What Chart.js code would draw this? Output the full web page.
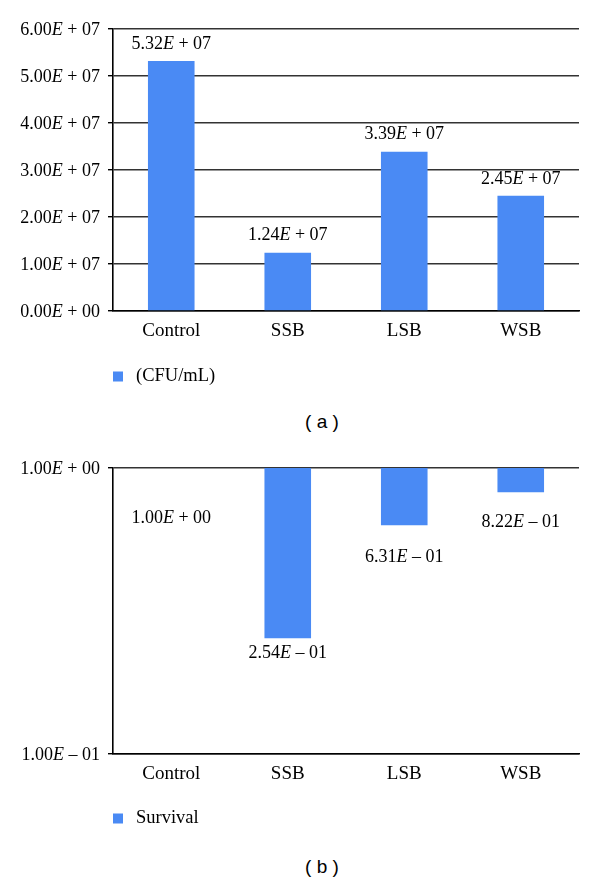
<!DOCTYPE html>
<html>
<head>
<meta charset="utf-8">
<script src="https://cdn.jsdelivr.net/npm/chart.js@4/dist/chart.umd.min.js"></script>
<style>
  html, body { margin: 0; padding: 0; background: #fff; }
  #wrap { position: relative; width: 600px; height: 882px; overflow: hidden; }
  .cv { position: absolute; left: 0; width: 600px; height: 400px; }
  .cap { position: absolute; width: 100px; text-align: center; font-family: 'Liberation Sans', Arial, sans-serif; font-size: 19px; color: #000; line-height: 24px; }
</style>
</head>
<body>
<div id="wrap">
  <div class="cv" style="top:0"><canvas id="ca" width="600" height="400"></canvas></div>
  <div class="cap" style="left:272px; top:410px;">( a )</div>
  <div class="cv" style="top:440px"><canvas id="cb" width="600" height="400"></canvas></div>
  <div class="cap" style="left:272px; top:855px;">( b )</div>
</div>
<script>
// ---- data ----
const categories = ['Control', 'SSB', 'LSB', 'WSB'];
const cfuValues = [5.32e7, 1.24e7, 3.39e7, 2.45e7];
const survivalValues = [1.00, 0.254, 0.631, 0.822];
const cfuTicks = [0, 1e7, 2e7, 3e7, 4e7, 5e7, 6e7];
const survivalTicks = [0.1, 1];
const cfuLegend = '(CFU/mL)';
const survivalLegend = 'Survival';

const BAR = '#4a8af4';
const SERIF = "'Liberation Serif', 'Times New Roman', serif";
const INK = '#000';

function fmt(v) {
  if (v === 0) return '0.00E + 00';
  let e = Math.floor(Math.log10(Math.abs(v)) + 1e-9);
  let m = v / Math.pow(10, e);
  if (Number(m.toFixed(2)) >= 10) { e += 1; m = v / Math.pow(10, e); }
  const s = e < 0 ? ' \u2013 ' : ' + ';
  const ee = String(Math.abs(e)).padStart(2, '0');
  return m.toFixed(2) + 'E' + s + ee;
}

function richText(ctx, text, x, y, size, align) {
  const i = text.indexOf('E');
  const a = text.slice(0, i), b = text.slice(i + 1);
  const normal = size + 'px ' + SERIF;
  const ital = 'italic ' + normal;
  ctx.font = normal;
  const wa = ctx.measureText(a).width, wb = ctx.measureText(b).width;
  ctx.font = ital;
  const we = ctx.measureText('E').width;
  const total = wa + we + wb;
  let x0 = x;
  if (align === 'right') x0 = x - total;
  else if (align === 'center') x0 = x - total / 2;
  ctx.textBaseline = 'middle';
  ctx.textAlign = 'left';
  ctx.fillStyle = INK;
  ctx.font = normal; ctx.fillText(a, x0, y);
  ctx.font = ital; ctx.fillText('E', x0 + wa, y);
  ctx.font = normal; ctx.fillText(b, x0 + wa + we, y);
}

const decorPlugin = {
  id: 'decor',
  afterDraw(chart, args, opts) {
    const ctx = chart.ctx;
    const ca = chart.chartArea;
    const ys = chart.scales.y;
    ctx.save();
    // y tick labels
    ys.ticks.forEach(t => {
      const py = ys.getPixelForValue(t.value);
      richText(ctx, fmt(t.value), ca.left - 13, py + 1, 18, 'right');
    });
    // data labels
    const meta = chart.getDatasetMeta(0);
    const vals = chart.data.datasets[0].rawValues;
    meta.data.forEach((bar, i) => {
      if (opts.mode === 'above') {
        richText(ctx, fmt(vals[i]), bar.x, bar.y - opts.gap, 18, 'center');
      } else {
        const bottom = ys.getPixelForValue(vals[i]);
        richText(ctx, fmt(vals[i]), bar.x, bottom + opts.gaps[i], 18, 'center');
      }
    });
    // legend
    ctx.fillStyle = BAR;
    ctx.fillRect(ca.left, opts.legendY - 5, 10, 10);
    ctx.fillStyle = INK;
    ctx.font = '18.5px ' + SERIF;
    ctx.textAlign = 'left';
    ctx.textBaseline = 'middle';
    ctx.fillText(chart.data.datasets[0].label, ca.left + 23, opts.legendY);
    ctx.restore();
  }
};

function makeChart(id, cfg) {
  return new Chart(document.getElementById(id), {
    type: 'bar',
    data: {
      labels: categories,
      datasets: [{
        label: cfg.legend,
        data: cfg.data,
        rawValues: cfg.raw,
        backgroundColor: BAR,
        borderWidth: 0,
        barPercentage: 0.4,
        categoryPercentage: 1.0
      }]
    },
    options: {
      responsive: false,
      animation: false,
      devicePixelRatio: 1,
      layout: { padding: { top: cfg.top, right: 21, bottom: 0, left: 0 } },
      plugins: {
        legend: { display: false },
        tooltip: { enabled: false },
        decor: cfg.decor
      },
      scales: {
        x: {
          grid: { display: false, drawTicks: false },
          border: { display: true, color: '#000', width: 1.6 },
          ticks: { color: INK, font: { family: SERIF, size: 19 }, padding: 9, maxRotation: 0 },
          afterFit(s) { s.height = 400 - cfg.bottom; }
        },
        y: {
          type: cfg.yType,
          min: cfg.min, max: cfg.max,
          grid: { color: '#333', lineWidth: 1.4, drawTicks: true, tickLength: 5, tickColor: '#000', tickWidth: 1.4 },
          border: { display: true, color: '#000', width: 1.6 },
          ticks: { color: 'rgba(0,0,0,0)', font: { family: SERIF, size: 18 }, autoSkip: false, callback: v => fmt(v) },
          afterBuildTicks(s) { s.ticks = cfg.ticks.map(v => ({ value: v })); },
          afterFit(s) { s.width = 113; }
        }
      }
    },
    plugins: [decorPlugin]
  });
}

makeChart('ca', {
  legend: cfuLegend,
  data: cfuValues,
  raw: cfuValues,
  yType: 'linear', min: 0, max: 6e7,
  ticks: cfuTicks,
  top: 29, bottom: 311,
  decor: { mode: 'above', gap: 17, legendY: 376.5 }
});

makeChart('cb', {
  legend: survivalLegend,
  data: survivalValues.map(v => [v, 1]),
  raw: survivalValues,
  yType: 'logarithmic', min: 0.1, max: 1,
  ticks: survivalTicks,
  top: 28, bottom: 314,
  decor: { mode: 'below', gaps: [50, 15, 32, 30], legendY: 818.5 - 440 }
});
</script>
</body>
</html>
